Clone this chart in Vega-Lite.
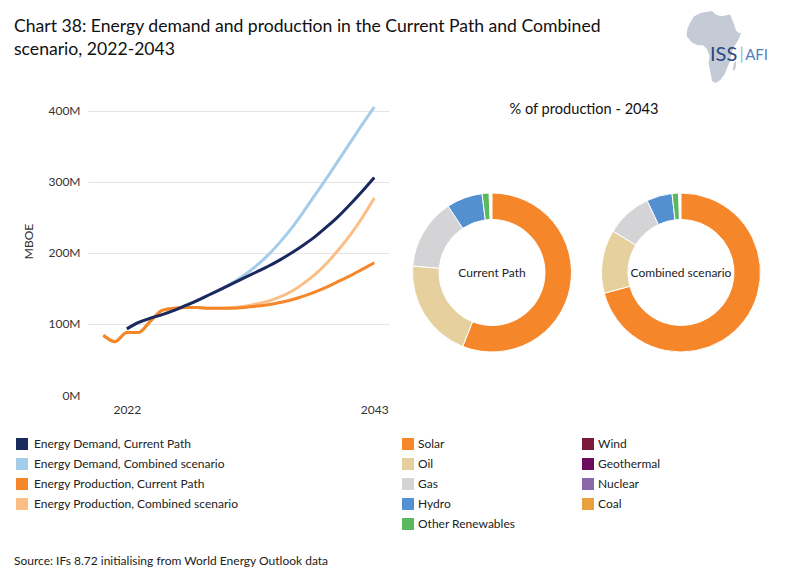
{
  "$schema": "https://vega.github.io/schema/vega-lite/v6.json",
  "background": "white",
  "padding": {"left": 14, "top": 10, "right": 10, "bottom": 8},
  "bounds": "flush",
  "spacing": 18,
  "config": {
    "font": "Lato",
    "view": {"stroke": null},
    "title": {"fontWeight": "normal", "color": "#111"},
    "axis": {"labelFont": "Lato", "titleFont": "Lato"},
    "legend": {"labelFont": "Lato"}
  },
  "title": {
    "text": "Source: IFs 8.72 initialising from World Energy Outlook data",
    "orient": "bottom", "anchor": "start", "fontSize": 12, "color": "#222", "offset": 26
  },
  "resolve": {"scale": {"color": "independent"}, "legend": {"color": "independent"}},
  "datasets": {
    "energy": [
      {"series": "Energy Demand, Combined scenario", "year": 2022, "value": 93},
      {"series": "Energy Demand, Combined scenario", "year": 2023, "value": 102},
      {"series": "Energy Demand, Combined scenario", "year": 2024, "value": 108},
      {"series": "Energy Demand, Combined scenario", "year": 2025, "value": 113},
      {"series": "Energy Demand, Combined scenario", "year": 2026, "value": 119},
      {"series": "Energy Demand, Combined scenario", "year": 2027, "value": 126},
      {"series": "Energy Demand, Combined scenario", "year": 2028, "value": 133},
      {"series": "Energy Demand, Combined scenario", "year": 2029, "value": 141},
      {"series": "Energy Demand, Combined scenario", "year": 2030, "value": 149},
      {"series": "Energy Demand, Combined scenario", "year": 2031, "value": 158},
      {"series": "Energy Demand, Combined scenario", "year": 2032, "value": 169},
      {"series": "Energy Demand, Combined scenario", "year": 2033, "value": 182},
      {"series": "Energy Demand, Combined scenario", "year": 2034, "value": 197},
      {"series": "Energy Demand, Combined scenario", "year": 2035, "value": 215},
      {"series": "Energy Demand, Combined scenario", "year": 2036, "value": 235},
      {"series": "Energy Demand, Combined scenario", "year": 2037, "value": 258},
      {"series": "Energy Demand, Combined scenario", "year": 2038, "value": 282},
      {"series": "Energy Demand, Combined scenario", "year": 2039, "value": 306},
      {"series": "Energy Demand, Combined scenario", "year": 2040, "value": 331},
      {"series": "Energy Demand, Combined scenario", "year": 2041, "value": 356},
      {"series": "Energy Demand, Combined scenario", "year": 2042, "value": 381},
      {"series": "Energy Demand, Combined scenario", "year": 2043, "value": 405},
      {"series": "Energy Production, Combined scenario", "year": 2020, "value": 84},
      {"series": "Energy Production, Combined scenario", "year": 2021, "value": 75},
      {"series": "Energy Production, Combined scenario", "year": 2022, "value": 88},
      {"series": "Energy Production, Combined scenario", "year": 2023, "value": 88},
      {"series": "Energy Production, Combined scenario", "year": 2024, "value": 104},
      {"series": "Energy Production, Combined scenario", "year": 2025, "value": 119},
      {"series": "Energy Production, Combined scenario", "year": 2026, "value": 122},
      {"series": "Energy Production, Combined scenario", "year": 2027, "value": 123},
      {"series": "Energy Production, Combined scenario", "year": 2028, "value": 123},
      {"series": "Energy Production, Combined scenario", "year": 2029, "value": 122},
      {"series": "Energy Production, Combined scenario", "year": 2030, "value": 122},
      {"series": "Energy Production, Combined scenario", "year": 2031, "value": 123},
      {"series": "Energy Production, Combined scenario", "year": 2032, "value": 125},
      {"series": "Energy Production, Combined scenario", "year": 2033, "value": 128},
      {"series": "Energy Production, Combined scenario", "year": 2034, "value": 132},
      {"series": "Energy Production, Combined scenario", "year": 2035, "value": 138},
      {"series": "Energy Production, Combined scenario", "year": 2036, "value": 146},
      {"series": "Energy Production, Combined scenario", "year": 2037, "value": 157},
      {"series": "Energy Production, Combined scenario", "year": 2038, "value": 170},
      {"series": "Energy Production, Combined scenario", "year": 2039, "value": 186},
      {"series": "Energy Production, Combined scenario", "year": 2040, "value": 205},
      {"series": "Energy Production, Combined scenario", "year": 2041, "value": 226},
      {"series": "Energy Production, Combined scenario", "year": 2042, "value": 250},
      {"series": "Energy Production, Combined scenario", "year": 2043, "value": 277},
      {"series": "Energy Production, Current Path", "year": 2020, "value": 84},
      {"series": "Energy Production, Current Path", "year": 2021, "value": 75},
      {"series": "Energy Production, Current Path", "year": 2022, "value": 88},
      {"series": "Energy Production, Current Path", "year": 2023, "value": 88},
      {"series": "Energy Production, Current Path", "year": 2024, "value": 104},
      {"series": "Energy Production, Current Path", "year": 2025, "value": 119},
      {"series": "Energy Production, Current Path", "year": 2026, "value": 122},
      {"series": "Energy Production, Current Path", "year": 2027, "value": 123},
      {"series": "Energy Production, Current Path", "year": 2028, "value": 123},
      {"series": "Energy Production, Current Path", "year": 2029, "value": 122},
      {"series": "Energy Production, Current Path", "year": 2030, "value": 122},
      {"series": "Energy Production, Current Path", "year": 2031, "value": 122},
      {"series": "Energy Production, Current Path", "year": 2032, "value": 123},
      {"series": "Energy Production, Current Path", "year": 2033, "value": 125},
      {"series": "Energy Production, Current Path", "year": 2034, "value": 127},
      {"series": "Energy Production, Current Path", "year": 2035, "value": 130},
      {"series": "Energy Production, Current Path", "year": 2036, "value": 134},
      {"series": "Energy Production, Current Path", "year": 2037, "value": 139},
      {"series": "Energy Production, Current Path", "year": 2038, "value": 145},
      {"series": "Energy Production, Current Path", "year": 2039, "value": 152},
      {"series": "Energy Production, Current Path", "year": 2040, "value": 160},
      {"series": "Energy Production, Current Path", "year": 2041, "value": 168},
      {"series": "Energy Production, Current Path", "year": 2042, "value": 177},
      {"series": "Energy Production, Current Path", "year": 2043, "value": 186},
      {"series": "Energy Demand, Current Path", "year": 2022, "value": 93},
      {"series": "Energy Demand, Current Path", "year": 2023, "value": 102},
      {"series": "Energy Demand, Current Path", "year": 2024, "value": 108},
      {"series": "Energy Demand, Current Path", "year": 2025, "value": 113},
      {"series": "Energy Demand, Current Path", "year": 2026, "value": 119},
      {"series": "Energy Demand, Current Path", "year": 2027, "value": 126},
      {"series": "Energy Demand, Current Path", "year": 2028, "value": 133},
      {"series": "Energy Demand, Current Path", "year": 2029, "value": 141},
      {"series": "Energy Demand, Current Path", "year": 2030, "value": 149},
      {"series": "Energy Demand, Current Path", "year": 2031, "value": 157},
      {"series": "Energy Demand, Current Path", "year": 2032, "value": 165},
      {"series": "Energy Demand, Current Path", "year": 2033, "value": 173},
      {"series": "Energy Demand, Current Path", "year": 2034, "value": 181},
      {"series": "Energy Demand, Current Path", "year": 2035, "value": 190},
      {"series": "Energy Demand, Current Path", "year": 2036, "value": 200},
      {"series": "Energy Demand, Current Path", "year": 2037, "value": 211},
      {"series": "Energy Demand, Current Path", "year": 2038, "value": 223},
      {"series": "Energy Demand, Current Path", "year": 2039, "value": 237},
      {"series": "Energy Demand, Current Path", "year": 2040, "value": 252},
      {"series": "Energy Demand, Current Path", "year": 2041, "value": 269},
      {"series": "Energy Demand, Current Path", "year": 2042, "value": 287},
      {"series": "Energy Demand, Current Path", "year": 2043, "value": 306}
    ],
    "mix": [
      {"scenario": "Current Path", "source": "Solar", "share": 56.0},
      {"scenario": "Current Path", "source": "Oil", "share": 20.3},
      {"scenario": "Current Path", "source": "Gas", "share": 14.4},
      {"scenario": "Current Path", "source": "Hydro", "share": 7.3},
      {"scenario": "Current Path", "source": "Other Renewables", "share": 1.4},
      {"scenario": "Combined scenario", "source": "Solar", "share": 70.8},
      {"scenario": "Combined scenario", "source": "Oil", "share": 12.9},
      {"scenario": "Combined scenario", "source": "Gas", "share": 9.3},
      {"scenario": "Combined scenario", "source": "Hydro", "share": 5.2},
      {"scenario": "Combined scenario", "source": "Other Renewables", "share": 1.3}
    ]
  },
  "hconcat": [
    {
      "width": 301,
      "height": 384,
      "title": {
        "text": ["Chart 38: Energy demand and production in the Current Path and Combined", "scenario, 2022-2043"],
        "anchor": "start", "frame": "group", "dx": -74, "offset": -48,
        "fontSize": 17.6, "lineHeight": 23, "color": "#111"
      },
      "data": {"name": "energy"},
      "mark": {"type": "line", "strokeWidth": 3, "interpolate": "monotone", "clip": false},
      "encoding": {
        "x": {
          "field": "year", "type": "quantitative",
          "scale": {"domain": [2018.7, 2044.25], "nice": false, "zero": false},
          "axis": {"values": [2022, 2043], "format": "d", "title": null, "domain": false, "ticks": false, "grid": false,
                   "labelFontSize": 12, "labelPadding": 9, "labelColor": "#333"}
        },
        "y": {
          "field": "value", "type": "quantitative",
          "scale": {"domain": [0, 540], "nice": false},
          "axis": {
            "values": [0, 100, 200, 300, 400], "labelExpr": "datum.value + 'M'",
            "title": "MBOE", "domain": false, "ticks": false,
            "gridColor": "#e4e4e4", "gridWidth": 1.2,
            "gridOpacity": {"condition": {"test": "datum.value === 0", "value": 0}, "value": 1},
            "labelPadding": 8, "labelFontSize": 12, "labelColor": "#333",
            "titleFontSize": 12, "titleFontWeight": "normal", "titleColor": "#333",
            "titleX": -60, "titleY": 230, "titleBaseline": "middle"
          }
        },
        "color": {
          "field": "series", "type": "nominal",
          "scale": {
            "domain": ["Energy Demand, Current Path", "Energy Demand, Combined scenario", "Energy Production, Current Path", "Energy Production, Combined scenario"],
            "range": ["#1b2a5e", "#a5cce9", "#f5862a", "#fbbf86"]
          },
          "legend": {
            "orient": "none", "legendX": -72, "legendY": 427, "title": null,
            "symbolType": "square", "symbolSize": 144, "symbolStrokeWidth": 0,
            "labelFontSize": 12, "labelColor": "#222", "labelLimit": 300, "rowPadding": 8, "labelOffset": 6,
            "encode": {
              "symbols": {
                "update": {
                  "fill": {"signal": "datum.value === 'Energy Demand, Current Path' ? '#1b2a5e' : datum.value === 'Energy Demand, Combined scenario' ? '#a5cce9' : datum.value === 'Energy Production, Current Path' ? '#f5862a' : '#fbbf86'"},
                  "fillOpacity": {"value": 1}
                }
              }
            }
          }
        }
      }
    },
    {
      "bounds": "flush",
      "spacing": 0,
      "resolve": {"scale": {"color": "independent"}, "legend": {"color": "independent"}},
      "vconcat": [
        {
          "width": 359,
          "height": 110,
          "layer": [
            {
              "data": {"values": [{"name": "Africa"}]},
              "mark": {
                "type": "point", "filled": true, "opacity": 1, "color": "#c4cbd6", "size": 5184,
                "shape": "M-0.55,-0.85L-0.35,-0.95L-0.05,-1L0.05,-0.9L0.2,-0.85L0.45,-0.9L0.55,-0.65L0.62,-0.45L0.7,-0.38L0.76,-0.4L0.68,-0.2L0.55,0L0.48,0.2L0.45,0.4L0.38,0.55L0.3,0.75L0.18,0.92L0.05,1L-0.05,0.95L-0.1,0.7L-0.15,0.45L-0.12,0.25L-0.2,0.05L-0.3,-0.05L-0.45,-0.05L-0.6,-0.12L-0.76,-0.3L-0.74,-0.5L-0.65,-0.7Z M0.55,0.45L0.62,0.38L0.6,0.6L0.52,0.68Z"
              },
              "encoding": {
                "x": {"datum": 0.855, "type": "quantitative", "scale": {"domain": [0, 1]}, "axis": null},
                "y": {"datum": 0.673, "type": "quantitative", "scale": {"domain": [0, 1]}, "axis": null}
              }
            },
            {
              "data": {"values": [{"label": "ISS"}]},
              "mark": {"type": "text", "fontSize": 20, "color": "#2a4a7f", "align": "center", "baseline": "middle"},
              "encoding": {
                "x": {"datum": 0.882, "type": "quantitative"},
                "y": {"datum": 0.6, "type": "quantitative"},
                "text": {"field": "label"}
              }
            },
            {
              "data": {"values": [{"label": "|"}]},
              "mark": {"type": "text", "fontSize": 17, "color": "#9db6d8", "align": "center", "baseline": "middle"},
              "encoding": {
                "x": {"datum": 0.932, "type": "quantitative"},
                "y": {"datum": 0.6, "type": "quantitative"},
                "text": {"field": "label"}
              }
            },
            {
              "data": {"values": [{"label": "AFI"}]},
              "mark": {"type": "text", "fontSize": 15, "color": "#4f7fbf", "align": "left", "baseline": "middle"},
              "encoding": {
                "x": {"datum": 0.942, "type": "quantitative"},
                "y": {"datum": 0.6, "type": "quantitative"},
                "text": {"field": "label"}
              }
            }
          ]
        },
        {
          "title": {"text": "% of production - 2043", "fontSize": 14.6, "anchor": "middle", "offset": 4, "color": "#111"},
          "bounds": "flush",
          "spacing": 19,
          "hconcat": [
            {
              "width": 170,
              "height": 303,
              "layer": [
                {
                  "data": {"name": "mix"},
                  "transform": [
                    {"filter": "datum.scenario === 'Current Path'"},
                    {"calculate": "indexof(['Solar','Oil','Gas','Hydro','Other Renewables'], datum.source)", "as": "rank"}
                  ],
                  "mark": {"type": "arc", "innerRadius": 53, "outerRadius": 79.5, "stroke": "white", "strokeWidth": 1},
                  "encoding": {
                    "theta": {"field": "share", "type": "quantitative", "stack": true, "scale": {"domain": [0, 100]}},
                    "order": {"field": "rank"},
                    "color": {
                      "field": "source", "type": "nominal",
                      "scale": {
                        "domain": ["Solar", "Oil", "Gas", "Hydro", "Other Renewables", "Wind", "Geothermal", "Nuclear", "Coal"],
                        "range": ["#f5862a", "#e6d19e", "#d4d4d6", "#5290d0", "#5bb85d", "#7b1a3c", "#6a0d5e", "#8a68aa", "#e9a23b"]
                      },
                      "legend": {
                        "orient": "none", "legendX": -5, "legendY": 317, "title": null, "columns": 2,
                        "columnPadding": 66, "rowPadding": 8, "symbolType": "square", "symbolSize": 144,
                        "symbolStrokeWidth": 0, "labelFontSize": 12, "labelColor": "#222", "labelOffset": 4
                      }
                    }
                  }
                },
                {
                  "data": {"values": [{"scenario": "Current Path"}]},
                  "mark": {"type": "text", "fontSize": 12, "color": "#222"},
                  "encoding": {"text": {"field": "scenario"}}
                }
              ]
            },
            {
              "width": 170,
              "height": 303,
              "layer": [
                {
                  "data": {"name": "mix"},
                  "transform": [
                    {"filter": "datum.scenario === 'Combined scenario'"},
                    {"calculate": "indexof(['Solar','Oil','Gas','Hydro','Other Renewables'], datum.source)", "as": "rank"}
                  ],
                  "mark": {"type": "arc", "innerRadius": 53, "outerRadius": 79.5, "stroke": "white", "strokeWidth": 1},
                  "encoding": {
                    "theta": {"field": "share", "type": "quantitative", "stack": true, "scale": {"domain": [0, 100]}},
                    "order": {"field": "rank"},
                    "color": {
                      "field": "source", "type": "nominal",
                      "scale": {
                        "domain": ["Solar", "Oil", "Gas", "Hydro", "Other Renewables", "Wind", "Geothermal", "Nuclear", "Coal"],
                        "range": ["#f5862a", "#e6d19e", "#d4d4d6", "#5290d0", "#5bb85d", "#7b1a3c", "#6a0d5e", "#8a68aa", "#e9a23b"]
                      },
                      "legend": {
                        "orient": "none", "legendX": -5, "legendY": 317, "title": null, "columns": 2,
                        "columnPadding": 66, "rowPadding": 8, "symbolType": "square", "symbolSize": 144,
                        "symbolStrokeWidth": 0, "labelFontSize": 12, "labelColor": "#222", "labelOffset": 4
                      }
                    }
                  }
                },
                {
                  "data": {"values": [{"scenario": "Combined scenario"}]},
                  "mark": {"type": "text", "fontSize": 12, "color": "#222"},
                  "encoding": {"text": {"field": "scenario"}}
                }
              ]
            }
          ]
        }
      ]
    }
  ]
}
